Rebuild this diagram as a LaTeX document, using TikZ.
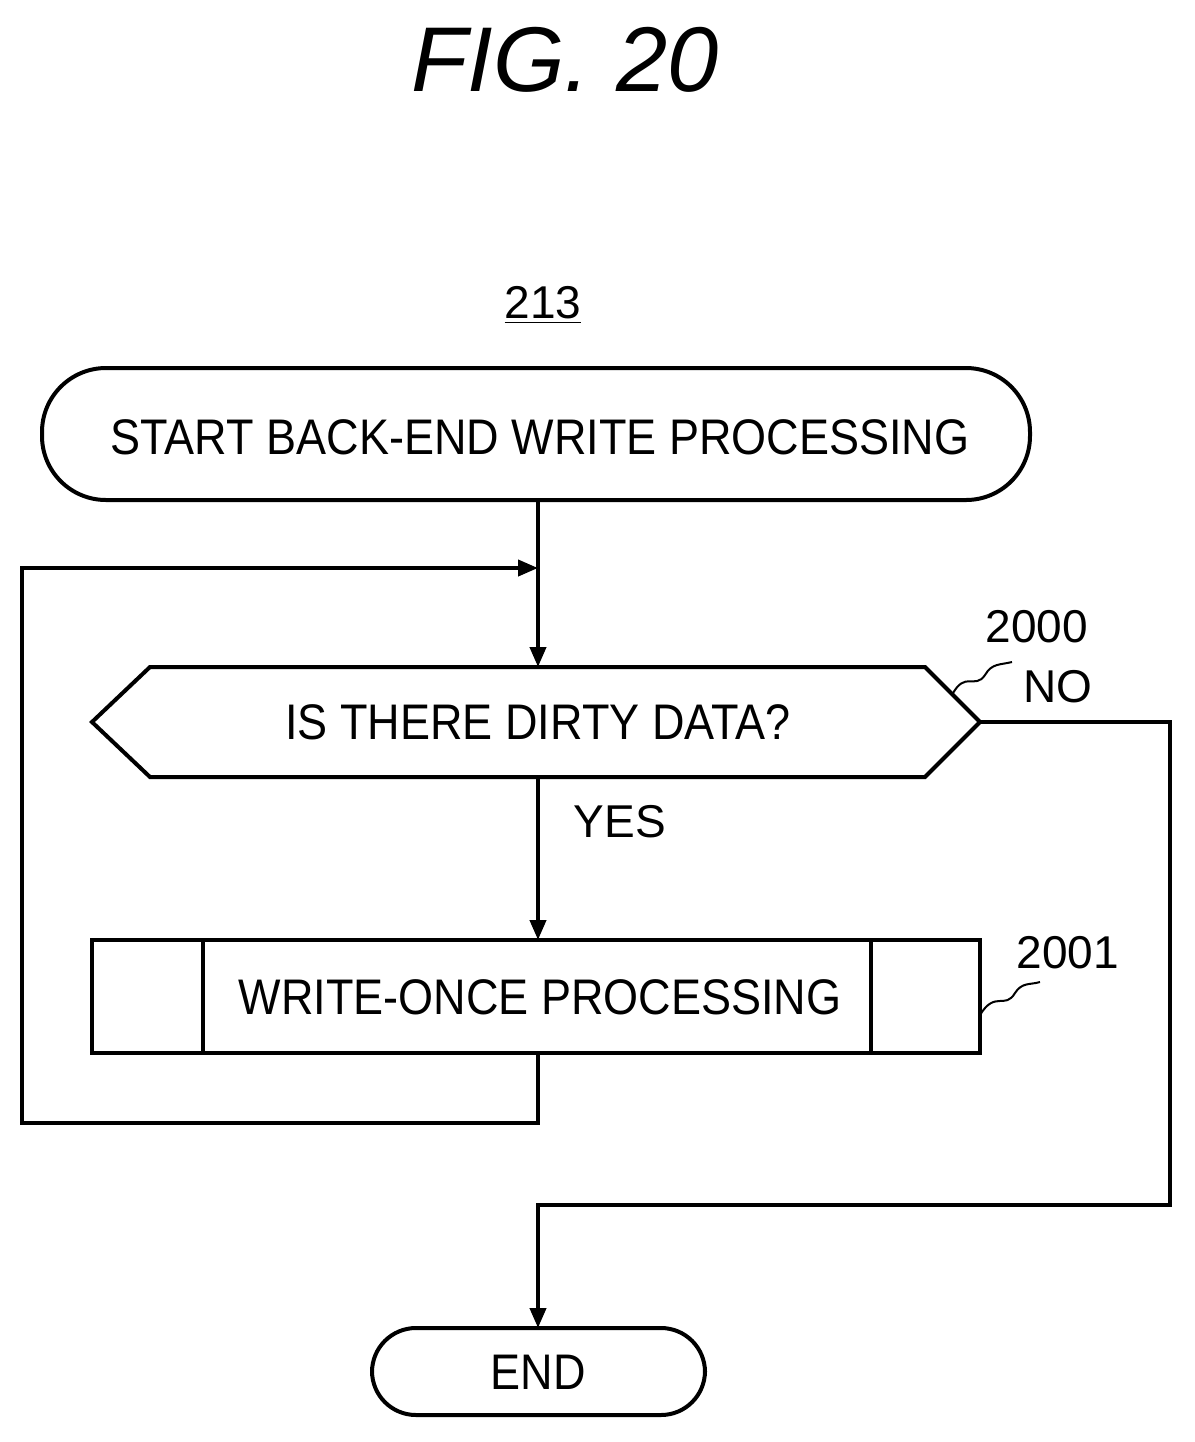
\documentclass[tikz,border=0pt]{standalone}
\usepackage{fontspec}
\setmainfont{Liberation Sans}
\usetikzlibrary{arrows.meta}
\begin{document}
\begin{tikzpicture}[x=0.5pt,y=-0.5pt,
  ln/.style={line width=2pt},
  arr/.style={ln,-{Triangle[length=10pt,width=8pt]}},
  txt/.style={font=\fontsize{25}{28}\selectfont,inner sep=0pt},
  lbl/.style={font=\fontsize{23}{26}\selectfont,inner sep=0pt}]
\useasboundingbox (0,0) rectangle (1195,1442);
\node[inner sep=0pt,font=\fontsize{46}{50}\selectfont\itshape] (title) at (565,60) {FIG. 20};
\node[lbl] (ref) at (543,305) {\underline{213}};
% start
\draw[ln,rounded corners=32pt] (42,368) rectangle (1030,500);
\node[txt,xscale=0.9] (start) at (540,437) {START BACK-END WRITE PROCESSING};
\coordinate (sb) at (538,500);
% decision
\draw[ln] (92,722) -- (150,667) -- (925,667) -- (980,722) -- (925,777) -- (150,777) -- cycle;
\node[txt,xscale=0.9] (dec) at (538,722) {IS THERE DIRTY DATA?};
\coordinate (dt) at (538,667);
\coordinate (db) at (538,777);
\coordinate (dr) at (980,722);
% process
\draw[ln] (92,940) rectangle (980,1053);
\draw[ln] (203,940) -- (203,1053);
\draw[ln] (871,940) -- (871,1053);
\node[txt,xscale=0.9] (proc) at (540,997) {WRITE-ONCE PROCESSING};
\coordinate (pt) at (538,940);
\coordinate (pb) at (538,1053);
% end
\draw[ln,rounded corners=22pt] (372,1328) rectangle (705,1415);
\node[txt,xscale=0.9] (end) at (538,1372) {END};
\coordinate (et) at (538,1328);
% connectors
\coordinate (m) at (538,568);
\draw[arr] (sb) -- (dt);
\draw[arr] (pb) -- (538,1123) -- (22,1123) -- (22,568) -- (m);
\draw[arr] (db) -- (pt);
\draw[arr] (dr) -- (1170,722) -- (1170,1205) -- (538,1205) -- (et);
% labels
\node[lbl] (yes) at (620,822) {YES};
\node[lbl] (no) at (1058,687) {NO};
\node[lbl] (n2000) at (1037,627) {2000};
\node[lbl] (n2001) at (1068,953) {2001};
\draw[line width=1pt] (952,695) .. controls (965,670) and (975,690) .. (985,675) .. controls (992,663) and (1000,665) .. (1012,662);
\draw[line width=1pt] (980,1015) .. controls (995,990) and (1005,1010) .. (1015,993) .. controls (1022,982) and (1030,985) .. (1040,982);
\end{tikzpicture}
\end{document}
